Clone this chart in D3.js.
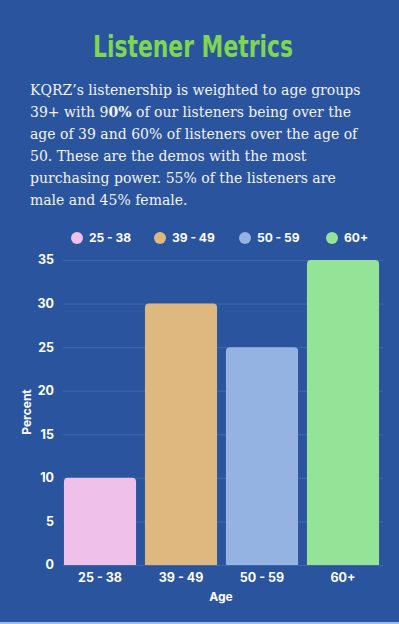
<!DOCTYPE html>
<meta charset="utf-8">
<style>
    body { margin: 0; background: #2a559e; }
    svg { display: block; }
    .title { font-family: "Comic Sans MS", "DejaVu Sans", sans-serif; font-weight: bold; fill: #7fd651; }
    .para { font-family: "DejaVu Serif", serif; fill: #f2f2f2; }
    .lbl { font-family: Inter, "Open Sans", sans-serif; font-weight: 700; fill: #ffffff; }
    .grid line { stroke: #3d68ad; stroke-width: 1; }
    .grid path { display: none; }
</style>
<body>
<script src="https://cdnjs.cloudflare.com/ajax/libs/d3/7.8.5/d3.min.js"></script>
<script>
    // chart data
    var categories = ["25 - 38", "39 - 49", "50 - 59", "60+"];
    var percents = [10, 30, 25, 35];
    var colors = ["#efc0ea", "#dfb87f", "#95b3e2", "#95e397"];
    var yTicks = [0, 5, 10, 15, 20, 25, 30, 35];

    var titleText = "Listener Metrics";
    // paragraph lines, each an array of [text, bold?] pieces
    var paraLines = [
        [["KQRZ\u2019s listenership is weighted to age groups", false]],
        [["39+ with 9", false], ["0%", true], [" of our listeners being over the", false]],
        [["age of 39 and 60% of listeners over the age of", false]],
        [["50. These are the demos with the most", false]],
        [["purchasing power. 55% of the listeners are", false]],
        [["male and 45% female.", false]]
    ];

    var W = 399, H = 624;
    var svg = d3.select("body").append("svg")
        .attr("width", W)
        .attr("height", H);

    svg.append("rect").attr("width", W).attr("height", H).attr("fill", "#2a559e");
    svg.append("rect").attr("y", H - 2).attr("width", W).attr("height", 2).attr("fill", "#9fbce6");

    // Title
    svg.append("text")
        .attr("class", "title")
        .attr("x", 93)
        .attr("y", 57)
        .attr("font-size", 31)
        .attr("textLength", 200)
        .attr("lengthAdjust", "spacingAndGlyphs")
        .text(titleText);

    // Paragraph
    var para = svg.append("text")
        .attr("class", "para")
        .attr("font-size", 14);
    paraLines.forEach(function (line, i) {
        var t = para.append("tspan").attr("x", 30).attr("y", 95 + i * 22);
        line.forEach(function (piece, j) {
            var s = j === 0 ? t : para.append("tspan");
            s.text(piece[0]);
            if (piece[1]) s.attr("font-weight", "bold");
        });
    });

    // Scales
    var x = d3.scaleBand()
        .domain(categories)
        .range([59.5, 383.5])
        .paddingInner(0.11)
        .paddingOuter(0.055);

    var y = d3.scaleLinear()
        .domain([0, 35])
        .range([565, 260]);

    // Grid
    svg.append("g")
        .attr("class", "grid")
        .attr("transform", "translate(63,0)")
        .call(d3.axisLeft(y).tickValues(yTicks).tickSize(-(383 - 63)).tickFormat(""));

    // Bars with rounded tops
    function barPath(x0, y0, w, h, r) {
        return "M" + x0 + "," + (y0 + h) +
            "V" + (y0 + r) +
            "Q" + x0 + "," + y0 + " " + (x0 + r) + "," + y0 +
            "H" + (x0 + w - r) +
            "Q" + (x0 + w) + "," + y0 + " " + (x0 + w) + "," + (y0 + r) +
            "V" + (y0 + h) + "Z";
    }

    svg.append("g").selectAll("path")
        .data(percents)
        .enter().append("path")
        .attr("fill", (d, i) => colors[i])
        .attr("d", (d, i) => barPath(x(categories[i]), y(d), x.bandwidth(), y(0) - y(d), 4));

    // Y tick labels
    svg.append("g").selectAll("text")
        .data(yTicks)
        .enter().append("text")
        .attr("class", "lbl")
        .attr("font-size", 12.5)
        .attr("x", 54)
        .attr("y", d => y(d))
        .attr("dy", "0.35em")
        .attr("text-anchor", "end")
        .text(d => d);

    // X tick labels
    svg.append("g").selectAll("text")
        .data(categories)
        .enter().append("text")
        .attr("class", "lbl")
        .attr("font-size", 12.5)
        .attr("x", d => x(d) + x.bandwidth() / 2)
        .attr("y", 582)
        .attr("text-anchor", "middle")
        .text(d => d);

    // Axis titles
    svg.append("text")
        .attr("class", "lbl")
        .attr("font-size", 12)
        .attr("x", 221)
        .attr("y", 601)
        .attr("text-anchor", "middle")
        .text("Age");

    svg.append("text")
        .attr("class", "lbl")
        .attr("font-size", 12)
        .attr("transform", "translate(31,412) rotate(-90)")
        .attr("text-anchor", "middle")
        .text("Percent");

    // Legend
    var legendX = [77, 160, 245, 332];
    var legend = svg.append("g").selectAll("g")
        .data(categories)
        .enter().append("g")
        .attr("transform", (d, i) => "translate(" + legendX[i] + ",238)");
    legend.append("circle")
        .attr("r", 6)
        .attr("fill", (d, i) => colors[i]);
    legend.append("text")
        .attr("class", "lbl")
        .attr("font-size", 12)
        .attr("x", 12)
        .attr("dy", "0.35em")
        .text(d => d);
</script>
</body>
